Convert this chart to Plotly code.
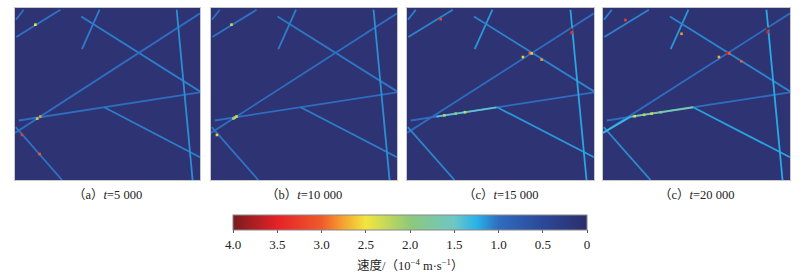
import plotly.graph_objects as go
from plotly.colors import sample_colorscale

# ---------------- data ----------------
# fracture segments in normalised domain coordinates (x0, y0, x1, y1)
frac_x0 = [0.007, 0.005, 0.362, 0.358, 0.000, 0.020, 0.482, 0.874, 0.004]
frac_y0 = [0.831, 0.932, 0.761, 0.951, 0.274, 0.346, 0.423, 0.990, 0.307]
frac_x1 = [0.245, 0.047, 0.457, 1.000, 1.000, 1.000, 1.000, 0.960, 0.254]
frac_y1 = [0.990, 0.990, 0.990, 0.515, 0.969, 0.509, 0.132, 0.000, 0.000]

# velocity along each fracture per panel (10^-4 m/s)
vel_a = [1.02, 1.02, 1.06, 1.06, 1.00, 1.00, 1.06, 1.12, 1.02]
vel_b = [1.02, 1.02, 1.06, 1.04, 1.00, 1.00, 1.06, 1.12, 1.02]
vel_c = [1.08, 1.08, 1.15, 1.08, 1.00, 1.00, 1.15, 1.20, 1.08]
vel_d = [1.08, 1.08, 1.15, 1.08, 1.00, 1.00, 1.18, 1.22, 1.10]
panel_vels = [vel_a, vel_b, vel_c, vel_d]

# faster sub-segments (x0, y0, x1, y1, velocity) in panels c and d
seg_c = [[0.157, 0.368, 0.479, 0.422, 1.45]]
seg_d = [[0.152, 0.368, 0.482, 0.423, 1.65], [0.000, 0.274, 0.150, 0.370, 1.30]]
panel_segs = [[], [], seg_c, seg_d]

# hot spots (x, y, velocity) per panel
hot_a_x = [0.137, 0.038, 0.110, 0.133, 0.120]
hot_a_y = [0.369, 0.262, 0.903, 0.151, 0.357]
hot_a_v = [2.8, 3.3, 2.5, 3.0, 2.2]
hot_b_x = [0.137, 0.032, 0.110, 0.120, 0.128]
hot_b_y = [0.369, 0.262, 0.903, 0.357, 0.363]
hot_b_v = [2.4, 2.6, 2.3, 2.0, 2.2]
hot_c_x = [0.657, 0.667, 0.880, 0.880, 0.20, 0.26, 0.31, 0.72, 0.62, 0.18]
hot_c_y = [0.738, 0.736, 0.874, 0.856, 0.376, 0.386, 0.394, 0.700, 0.715, 0.935]
hot_c_v = [3.0, 2.6, 3.9, 3.4, 2.2, 2.0, 2.3, 2.8, 2.6, 3.2]
hot_d_x = [0.665, 0.675, 0.880, 0.880, 0.17, 0.22, 0.26, 0.31, 0.74, 0.62, 0.12, 0.42]
hot_d_y = [0.738, 0.736, 0.880, 0.860, 0.371, 0.379, 0.386, 0.394, 0.690, 0.715, 0.93, 0.85]
hot_d_v = [3.6, 3.0, 4.0, 3.5, 2.4, 2.2, 2.6, 2.0, 3.0, 2.7, 3.2, 2.8]
hot_x = [hot_a_x, hot_b_x, hot_c_x, hot_d_x]
hot_y = [hot_a_y, hot_b_y, hot_c_y, hot_d_y]
hot_v = [hot_a_v, hot_b_v, hot_c_v, hot_d_v]

captions = ["（a）<i>t</i>=5 000", "（b）<i>t</i>=10 000",
            "（c）<i>t</i>=15 000", "（c）<i>t</i>=20 000"]
cbar_tickvals = [4.0, 3.5, 3.0, 2.5, 2.0, 1.5, 1.0, 0.5, 0.0]
cbar_ticktext = ["4.0", "3.5", "3.0", "2.5", "2.0", "1.5", "1.0", "0.5", "0"]
vmax = 4.0

# ---------------- styling ----------------
scale = [
    [0.0, "#2b2e6b"], [0.125, "#2c4898"], [0.25, "#2f6cc0"],
    [0.3125, "#29b3e8"], [0.375, "#6ec6c6"], [0.5, "#8ec97a"],
    [0.625, "#f2e63f"], [0.6875, "#f5a431"], [0.75, "#f05a2b"],
    [0.875, "#e52127"], [1.0, "#781c1f"],
]
rev_scale = [[1 - t, c] for t, c in reversed(scale)]

def col(v):
    return sample_colorscale(scale, [min(max(v / vmax, 0), 1)])[0]

W, H = 806, 276
panels_px = [(15, 200), (211, 397), (407, 594), (603, 790)]
top_px, bot_px = 8, 180
serif = "Liberation Serif, Noto Sans CJK SC"

fig = go.Figure()
layout = dict(
    width=W, height=H, margin=dict(l=0, r=0, t=0, b=0, autoexpand=False),
    paper_bgcolor="white", plot_bgcolor="#2e3473", showlegend=False,
)
annotations = []
for i, (l, r) in enumerate(panels_px):
    n = "" if i == 0 else str(i + 1)
    xa, ya = "x" + n, "y" + n
    layout["xaxis" + n] = dict(domain=[l / W, r / W], range=[0, 1], visible=True,
                               showticklabels=False, ticks="", showgrid=False,
                               zeroline=False, showline=True, mirror=True,
                               linecolor="#c8c8c8", linewidth=1, anchor=ya)
    layout["yaxis" + n] = dict(domain=[1 - bot_px / H, 1 - top_px / H], range=[0, 1],
                               showticklabels=False, ticks="", showgrid=False,
                               zeroline=False, showline=True, mirror=True,
                               linecolor="#c8c8c8", linewidth=1, anchor=xa)
    vels = panel_vels[i]
    for k in range(len(frac_x0)):
        fig.add_trace(go.Scatter(
            x=[frac_x0[k], frac_x1[k]], y=[frac_y0[k], frac_y1[k]],
            mode="lines", line=dict(color=col(vels[k]), width=1.8),
            xaxis=xa, yaxis=ya, hoverinfo="skip"))
    for sx0, sy0, sx1, sy1, sv in panel_segs[i]:
        fig.add_trace(go.Scatter(
            x=[sx0, sx1], y=[sy0, sy1], mode="lines",
            line=dict(color=col(sv), width=1.8),
            xaxis=xa, yaxis=ya, hoverinfo="skip"))
    fig.add_trace(go.Scatter(
        x=hot_x[i], y=hot_y[i], mode="markers",
        marker=dict(symbol="square", size=2.6, color=[col(v) for v in hot_v[i]],
                    line=dict(width=0)),
        xaxis=xa, yaxis=ya, hoverinfo="skip"))
    annotations.append(dict(
        text=captions[i], x=(l + r) / 2 / W, y=1 - 195 / H, xref="paper", yref="paper",
        showarrow=False, xanchor="center", yanchor="middle",
        font=dict(family=serif, size=12.5, color="#222")))

# colorbar (reversed: 4.0 on the left, 0 on the right)
cb_l, cb_r = 233, 587
fig.add_trace(go.Scatter(
    x=[None], y=[None], mode="markers", xaxis="x", yaxis="y",
    marker=dict(color=[-v for v in cbar_tickvals], cmin=-vmax, cmax=0,
                colorscale=rev_scale, showscale=True,
                colorbar=dict(
                    orientation="h", x=(cb_l + cb_r) / 2 / W, xanchor="center",
                    y=1 - 215 / H, yanchor="top", len=cb_r - cb_l, lenmode="pixels",
                    thickness=15, thicknessmode="pixels", xpad=0, ypad=0,
                    outlinewidth=1, outlinecolor="#888",
                    tickvals=[-v for v in cbar_tickvals], ticktext=cbar_ticktext,
                    ticks="outside", ticklen=3, tickcolor="#555",
                    tickfont=dict(family="Liberation Serif", size=13, color="#222"),
                )),
    hoverinfo="skip"))
annotations.append(dict(
    text="速度/（10<sup>−4</sup> m·s<sup>−1</sup>）", x=(cb_l + cb_r) / 2 / W, y=1 - 265 / H,
    xref="paper", yref="paper", showarrow=False, xanchor="center", yanchor="middle",
    font=dict(family=serif, size=12.5, color="#222")))
layout["annotations"] = annotations
fig.update_layout(**layout)
fig.write_html("out.html", config={"displayModeBar": False},
               post_script="document.body.style.margin='0';document.body.style.overflow='hidden';")
